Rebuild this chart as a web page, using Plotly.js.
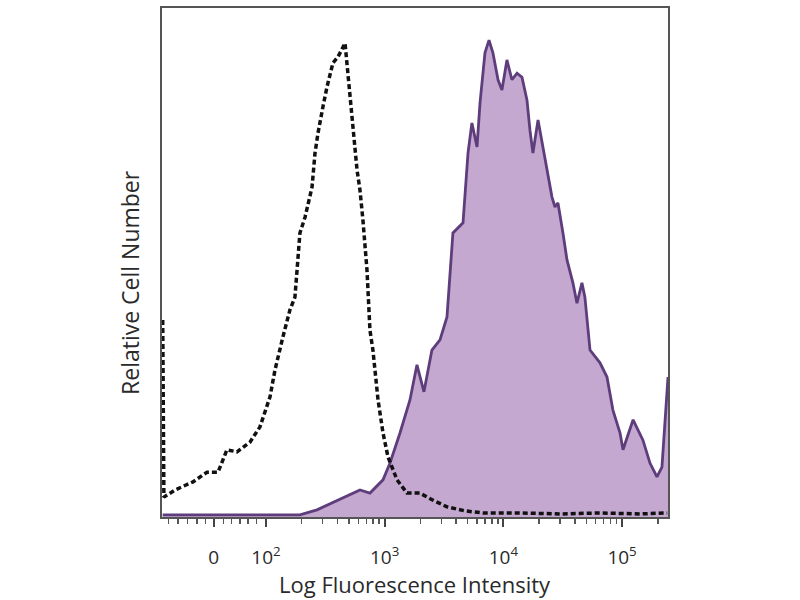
<!DOCTYPE html>
<html>
<head>
<meta charset="utf-8">
<script src="https://cdn.plot.ly/plotly-3.0.1.min.js"></script>
<style>html,body{margin:0;padding:0;background:#fff;}#chart{width:800px;height:600px;}</style>
</head>
<body>
<div id="chart"></div>
<script>
// x: position on the biexponential display scale, in decades (2 = 10^2, 3 = 10^3 ...)
// y: relative cell number (percent of full scale)
const isoX = [1.13, 1.14, 1.233, 1.385, 1.503, 1.596, 1.671, 1.756, 1.865, 1.949, 2.034, 2.076, 2.143, 2.202, 2.244, 2.286, 2.329, 2.388, 2.413, 2.438, 2.48, 2.514, 2.564, 2.607, 2.666, 2.682, 2.708, 2.733, 2.767, 2.792, 2.817, 2.851, 2.876, 2.901, 2.944, 2.986, 3.028, 3.104, 3.188, 3.297, 3.407, 3.525, 3.677, 3.828, 4.14, 4.477, 4.814, 5.151, 5.38];
const isoY = [38.7, 3.9, 5.3, 6.9, 8.8, 8.8, 13.2, 12.8, 14.7, 17.7, 23.6, 28.9, 35.4, 40.7, 43.2, 55.8, 58.9, 64.8, 71.5, 75.4, 80.6, 84.5, 89.2, 90.4, 93.1, 89.2, 81.3, 76.0, 68.2, 64.2, 58.3, 48.5, 36.7, 32.8, 23.0, 16.5, 11.8, 7.3, 4.7, 4.7, 3.3, 2.0, 1.2, 0.8, 0.8, 0.6, 0.8, 0.6, 0.8];

const stainX = [1.13, 2.286, 2.43, 2.564, 2.708, 2.792, 2.876, 2.986, 3.045, 3.129, 3.213, 3.272, 3.331, 3.398, 3.466, 3.525, 3.575, 3.66, 3.702, 3.735, 3.778, 3.803, 3.845, 3.879, 3.912, 3.955, 3.988, 4.03, 4.072, 4.115, 4.157, 4.199, 4.224, 4.249, 4.292, 4.334, 4.367, 4.409, 4.435, 4.46, 4.502, 4.536, 4.586, 4.62, 4.662, 4.687, 4.73, 4.814, 4.873, 4.923, 4.983, 5.008, 5.093, 5.176, 5.235, 5.294, 5.336, 5.361, 5.387];
const stainY = [0.4, 0.4, 1.4, 2.8, 4.3, 5.3, 4.7, 7.3, 10.6, 16.5, 23.0, 29.9, 24.6, 32.8, 34.8, 39.3, 55.8, 57.8, 71.5, 77.4, 72.7, 81.3, 91.2, 93.7, 91.2, 85.9, 83.9, 89.8, 85.9, 87.2, 86.4, 81.9, 76.0, 71.5, 78.0, 72.7, 68.8, 62.9, 60.9, 61.7, 55.8, 50.5, 46.0, 42.0, 46.0, 43.2, 32.8, 30.3, 27.5, 21.0, 16.5, 13.2, 19.1, 15.1, 10.6, 7.9, 9.8, 19.6, 27.5];

const tickVals = [1.56, 2, 3, 4, 5];
const tickText = ['0', '10<sup>2</sup>', '10<sup>3</sup>', '10<sup>4</sup>', '10<sup>5</sup>'];
const linearMinor = [1.18, 1.26, 1.34, 1.42, 1.49, 1.64, 1.71, 1.78, 1.85, 1.92];
const decadeMultipliers = [2, 3, 4, 5, 6, 7, 8, 9];

const minorVals = linearMinor.slice();
[2, 3, 4, 5].forEach(d => decadeMultipliers.forEach(m => {
  const v = d + Math.log10(m);
  if (v < 5.387) minorVals.push(v);
}));

const FONT = 'Open Sans, DejaVu Sans, sans-serif';

const traces = [
  {
    x: stainX, y: stainY, type: 'scatter', mode: 'lines',
    fill: 'tozeroy', fillcolor: '#c4a8cf',
    line: {color: '#5e3d7c', width: 2.8},
    hoverinfo: 'skip'
  },
  {
    x: isoX, y: isoY, type: 'scatter', mode: 'lines',
    line: {color: '#111111', width: 3.5, dash: '5px,3px'},
    hoverinfo: 'skip'
  }
];

const layout = {
  width: 800, height: 600,
  margin: {l: 162, r: 132, t: 8, b: 83},
  paper_bgcolor: '#ffffff', plot_bgcolor: '#ffffff',
  showlegend: false,
  font: {family: FONT, color: '#333'},
  xaxis: {
    range: [1.124, 5.387],
    showgrid: false, zeroline: false,
    showline: true, mirror: true, linecolor: '#555', linewidth: 2,
    ticks: 'outside', ticklen: 8, tickwidth: 2, tickcolor: '#444',
    tickmode: 'array', tickvals: tickVals, ticktext: tickText,
    tickfont: {size: 19, color: '#2a2a2a', family: FONT},
    ticklabelstandoff: 14,
    minor: {tickmode: 'array', tickvals: minorVals, ticks: 'outside', ticklen: 5, tickwidth: 1.5, tickcolor: '#555'}
  },
  yaxis: {
    range: [0, 100],
    showgrid: false, zeroline: false,
    showline: true, mirror: true, linecolor: '#555', linewidth: 2,
    ticks: '', showticklabels: false
  },
  annotations: [
    {
      text: 'Relative Cell Number', textangle: -90,
      xref: 'paper', yref: 'paper', x: -0.063, y: 0.46,
      xanchor: 'center', yanchor: 'middle', showarrow: false,
      font: {size: 23, color: '#2a2a2a', family: FONT}
    },
    {
      text: 'Log Fluorescence Intensity',
      xref: 'paper', yref: 'paper', x: 0.5, y: -0.132,
      xanchor: 'center', yanchor: 'middle', showarrow: false,
      font: {size: 22, color: '#2a2a2a', family: FONT}
    }
  ]
};

Plotly.newPlot('chart', traces, layout, {displayModeBar: false, staticPlot: true});
</script>
</body>
</html>
